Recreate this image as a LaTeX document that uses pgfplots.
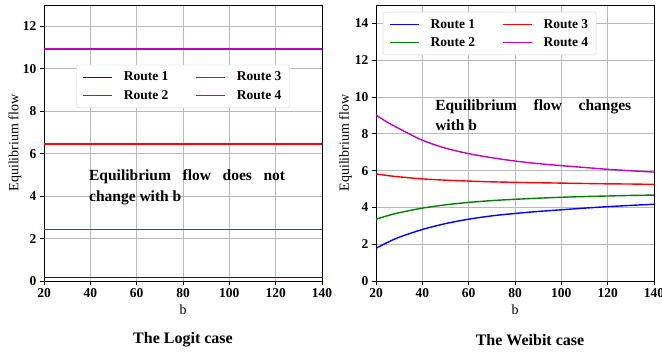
\documentclass[border=0pt]{standalone}
\usepackage{fontspec}
\setmainfont{Liberation Serif}
\usepackage{pgfplots}
\pgfplotsset{compat=1.18}
\definecolor{mplblue}{RGB}{0,0,255}
\definecolor{mplgreen}{RGB}{0,128,0}
\definecolor{mplred}{RGB}{255,0,0}
\definecolor{mplmag}{RGB}{191,0,191}
\tikzset{
  annot/.style={anchor=base west, inner sep=0pt, font=\bfseries\fontsize{15.5bp}{18bp}\selectfont},
}
\pgfplotsset{
  common/.style={
    scale only axis, width=278bp, height=276bp, anchor=south west,
    xmin=20, xmax=140, ymin=0,
    xtick={20,40,...,140},
    grid=major, major grid style={color=gray!55, line width=0.8bp},
    axis line style={line width=0.9bp},
    tick align=outside, major tick length=4bp,
    tick style={black, line width=0.8bp},
    xtick pos=bottom, ytick pos=left,
    /pgf/number format/assume math mode=true,
    ticklabel style={font=\bfseries\fontsize{13.5bp}{15bp}\selectfont},
    xlabel={b}, ylabel={Equilibrium flow},
    xlabel style={font=\fontsize{14bp}{16bp}\selectfont, at={(axis description cs:0.5,-0.105)}, anchor=center},
    ylabel style={font=\fontsize{14bp}{16bp}\selectfont, at={(axis description cs:-0.105,0.5)}, anchor=center},
    legend columns=2,
    legend cell align=left,
    legend style={draw=gray!35, rounded corners=2bp, fill=white,
      font=\bfseries\fontsize{13.5bp}{15bp}\selectfont, inner xsep=6bp, inner ysep=5bp,
      /tikz/every odd column/.append style={column sep=9bp},
      /tikz/every even column/.append style={column sep=25bp},
      row sep=4bp},
    legend image code/.code={\draw[##1] (0bp,0bp) -- (29bp,0bp);\draw[##1] (0bp,0bp) -- (29bp,0bp);},
  },
  pb/.style={color=mplblue, line width=1.4bp},
  pr/.style={color=mplred, line width=1.4bp},
  pg/.style={color=mplgreen, line width=1.4bp},
  pm/.style={color=mplmag, line width=1.4bp},
}
\pgfplotstableread{
b   r1   r2   r3   r4
20  1.78 3.36 5.82 9.02
25  2.10 3.55 5.73 8.62
30  2.38 3.71 5.66 8.28
40  2.80 3.96 5.55 7.65
50  3.12 4.14 5.48 7.22
60  3.36 4.27 5.43 6.92
70  3.54 4.37 5.39 6.70
80  3.67 4.44 5.36 6.52
90  3.78 4.50 5.34 6.38
100 3.87 4.55 5.32 6.27
110 3.96 4.59 5.30 6.17
120 4.04 4.62 5.28 6.07
130 4.11 4.65 5.27 5.99
140 4.17 4.67 5.25 5.92
}\weibit
\pgfplotstableread{
b   r1   r2   r3   r4
20  0.17 2.43 6.45 10.92
140 0.17 2.43 6.45 10.92
}\logit
\begin{document}
\begin{tikzpicture}
\useasboundingbox (0,0) rectangle (662bp,354bp);
\begin{axis}[common, at={(376bp,73bp)}, ymax=15, ytick={0,2,...,14},
  legend style={at={(0.025,0.975)}, anchor=north west},
  ylabel style={at={(axis description cs:-0.11,0.5)}}]
\addplot[pb, smooth] table[x=b, y=r1] {\weibit};
\addlegendentry{Route 1}
\addplot[pr, smooth] table[x=b, y=r3] {\weibit};
\addlegendentry{Route 3}
\addplot[pg, smooth] table[x=b, y=r2] {\weibit};
\addlegendentry{Route 2}
\addplot[pm, smooth] table[x=b, y=r4] {\weibit};
\addlegendentry{Route 4}
\node[annot] at (axis cs:45.5,9.29) {\makebox[196bp][l]{Equilibrium\hfill flow\hfill changes}};
\node[annot] at (axis cs:45.5,8.18) {with b};
\end{axis}
\begin{axis}[common, at={(44bp,73bp)}, ymax=13, ytick={0,2,...,12},
  legend style={at={(0.5,0.705)}, anchor=center}]
\addplot[pb] table[x=b, y=r1] {\logit};
\addlegendentry{Route 1}
\addplot[pr] table[x=b, y=r3] {\logit};
\addlegendentry{Route 3}
\addplot[pg] table[x=b, y=r2] {\logit};
\addlegendentry{Route 2}
\addplot[pm] table[x=b, y=r4] {\logit};
\addlegendentry{Route 4}
\addplot[pb, forget plot] table[x=b, y=r1] {\logit};
\addplot[pr, forget plot] table[x=b, y=r3] {\logit};
\addplot[pg, forget plot] table[x=b, y=r2] {\logit};
\addplot[pm, forget plot] table[x=b, y=r4] {\logit};
\node[annot] at (axis cs:39.4,4.72) {\makebox[196bp][l]{Equilibrium\hfill flow\hfill does\hfill not}};
\node[annot] at (axis cs:39.4,3.76) {change with b};
\end{axis}
\node[font=\bfseries\fontsize{16bp}{18bp}\selectfont] at (183bp,14bp) {The Logit case};
\node[font=\bfseries\fontsize{16bp}{18bp}\selectfont] at (530bp,14bp) {The Weibit case};
\end{tikzpicture}
\end{document}
